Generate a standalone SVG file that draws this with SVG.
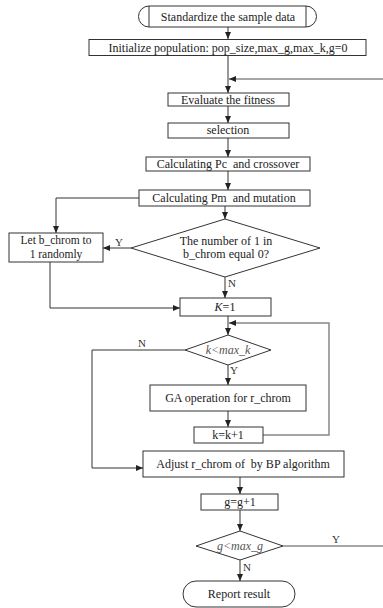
<svg xmlns="http://www.w3.org/2000/svg" width="383" height="608" viewBox="0 0 383 608">
<style>
.b{fill:#fff;stroke:#333;stroke-width:1}
.t{font-family:"Liberation Serif","Times New Roman",serif;font-size:12px;fill:#222;text-anchor:middle;white-space:pre}
.s{font-size:11.5px}
.l{font-family:"Liberation Serif","Times New Roman",serif;font-size:11px;fill:#333}
.i{font-style:italic;fill:#555}
.c{fill:none;stroke:#333;stroke-width:1}
.g{fill:none;stroke:#888;stroke-width:1.5}
</style>
<defs>
<marker id="a" markerWidth="8" markerHeight="8" refX="7" refY="4" orient="auto" markerUnits="userSpaceOnUse">
<path d="M0,1 L7,4 L0,7 z" fill="#222"/>
</marker>
</defs>
<rect width="383" height="608" fill="#fff"/>
<g id="connectors">
<line class="c" x1="228" y1="27" x2="228" y2="39" marker-end="url(#a)"/>
<line class="c" x1="228" y1="55" x2="228" y2="93" marker-end="url(#a)"/>
<line class="g" x1="383" y1="79" x2="229" y2="79"/>
<path d="M229,79 L236,76 L236,82 z" fill="#222"/>
<line class="c" x1="228" y1="106" x2="228" y2="123" marker-end="url(#a)"/>
<line class="c" x1="228" y1="138" x2="228" y2="157" marker-end="url(#a)"/>
<line class="c" x1="228" y1="171" x2="228" y2="190" marker-end="url(#a)"/>
<polyline class="c" points="139,198 56,198 56,233" marker-end="url(#a)"/>
<line class="c" x1="225" y1="206" x2="225" y2="219" marker-end="url(#a)"/>
<line class="c" x1="131" y1="248" x2="103" y2="248" marker-end="url(#a)"/>
<line class="c" x1="225" y1="277" x2="225" y2="298" marker-end="url(#a)"/>
<polyline class="c" points="50,262 50,308 180,308" marker-end="url(#a)"/>
<line class="c" x1="228" y1="316" x2="228" y2="335" marker-end="url(#a)"/>
<polyline class="g" points="263,435 329,435 329,323 229,323"/>
<path d="M229,323 L236,320 L236,326 z" fill="#222"/>
<line class="c" x1="228" y1="365" x2="228" y2="385" marker-end="url(#a)"/>
<polyline class="c" points="185,350 92,350 92,468 143,468" marker-end="url(#a)"/>
<line class="c" x1="228" y1="411" x2="228" y2="427" marker-end="url(#a)"/>
<line class="c" x1="240" y1="477" x2="240" y2="494" marker-end="url(#a)"/>
<line class="c" x1="240" y1="510" x2="240" y2="531" marker-end="url(#a)"/>
<line class="g" x1="283" y1="546" x2="383" y2="546"/>
<line class="c" x1="240" y1="560" x2="240" y2="581" marker-end="url(#a)"/>
<text class="l" x="115" y="246">Y</text>
<text class="l" x="228" y="287">N</text>
<text class="l" x="138" y="347">N</text>
<text class="l" x="230" y="374">Y</text>
<text class="l" x="332" y="543">Y</text>
<text class="l" x="243" y="571">N</text>
</g>
<g id="start">
<path class="b" d="M149,6 L306,6 A10.5,10.5 0 0 1 306,27 L149,27 A10.5,10.5 0 0 1 149,6 z"/>
<line class="c" x1="149" y1="6" x2="149" y2="27"/>
<line class="c" x1="306" y1="6" x2="306" y2="27"/>
<text class="t" x="228" y="21">Standardize the sample data</text>
</g>
<g id="init">
<rect class="b" x="89" y="39.5" width="277" height="16"/>
<text class="t" x="228" y="52">Initialize population: pop_size,max_g,max_k,g=0</text>
</g>
<g id="evaluate">
<rect class="b" x="168" y="93" width="121" height="13"/>
<text class="t" x="228" y="104">Evaluate the fitness</text>
</g>
<g id="selection">
<rect class="b" x="168" y="123" width="121" height="15"/>
<text class="t" x="228" y="134">selection</text>
</g>
<g id="crossover">
<rect class="b" x="146" y="157" width="164" height="14"/>
<text class="t" x="228" y="168">Calculating Pc  and crossover</text>
</g>
<g id="mutation">
<rect class="b" x="139" y="190" width="171" height="16"/>
<text class="t" x="224" y="202">Calculating Pm  and mutation</text>
</g>
<g id="check-b">
<polygon class="b" points="225,219 320,248 225,277 131,248"/>
<text class="t" x="226" y="245">The number of 1 in</text>
<text class="t" x="226" y="258">b_chrom equal 0?</text>
</g>
<g id="let-b">
<rect class="b" x="9" y="233" width="94" height="29"/>
<text class="t s" x="56" y="244">Let b_chrom to</text>
<text class="t s" x="56" y="257.5">1 randomly</text>
</g>
<g id="k1">
<rect class="b" x="180" y="298" width="91" height="18"/>
<text class="t" x="225" y="311"><tspan font-style="italic">K</tspan>=1</text>
</g>
<g id="check-k">
<polygon class="b" points="228,335 271,350 228,365 185,350"/>
<text class="t i" x="228" y="354">k&lt;max_k</text>
</g>
<g id="ga">
<rect class="b" x="150" y="385" width="156" height="26"/>
<text class="t" x="228" y="402">GA operation for r_chrom</text>
</g>
<g id="kinc">
<rect class="b" x="194" y="427" width="69" height="16"/>
<text class="t" x="228" y="439">k=k+1</text>
</g>
<g id="adjust">
<rect class="b" x="143" y="451" width="201" height="26"/>
<text class="t" x="243" y="468">Adjust r_chrom of  by BP algorithm</text>
</g>
<g id="ginc">
<rect class="b" x="201" y="494" width="77" height="16"/>
<text class="t" x="240" y="506">g=g+1</text>
</g>
<g id="check-g">
<polygon class="b" points="240,531 283,546 240,560 196,546"/>
<text class="t i" x="240" y="550">g&lt;max_g</text>
</g>
<g id="report">
<rect class="b" x="183" y="581" width="112" height="26" rx="13" ry="13"/>
<text class="t" x="239" y="598">Report result</text>
</g>
</svg>
